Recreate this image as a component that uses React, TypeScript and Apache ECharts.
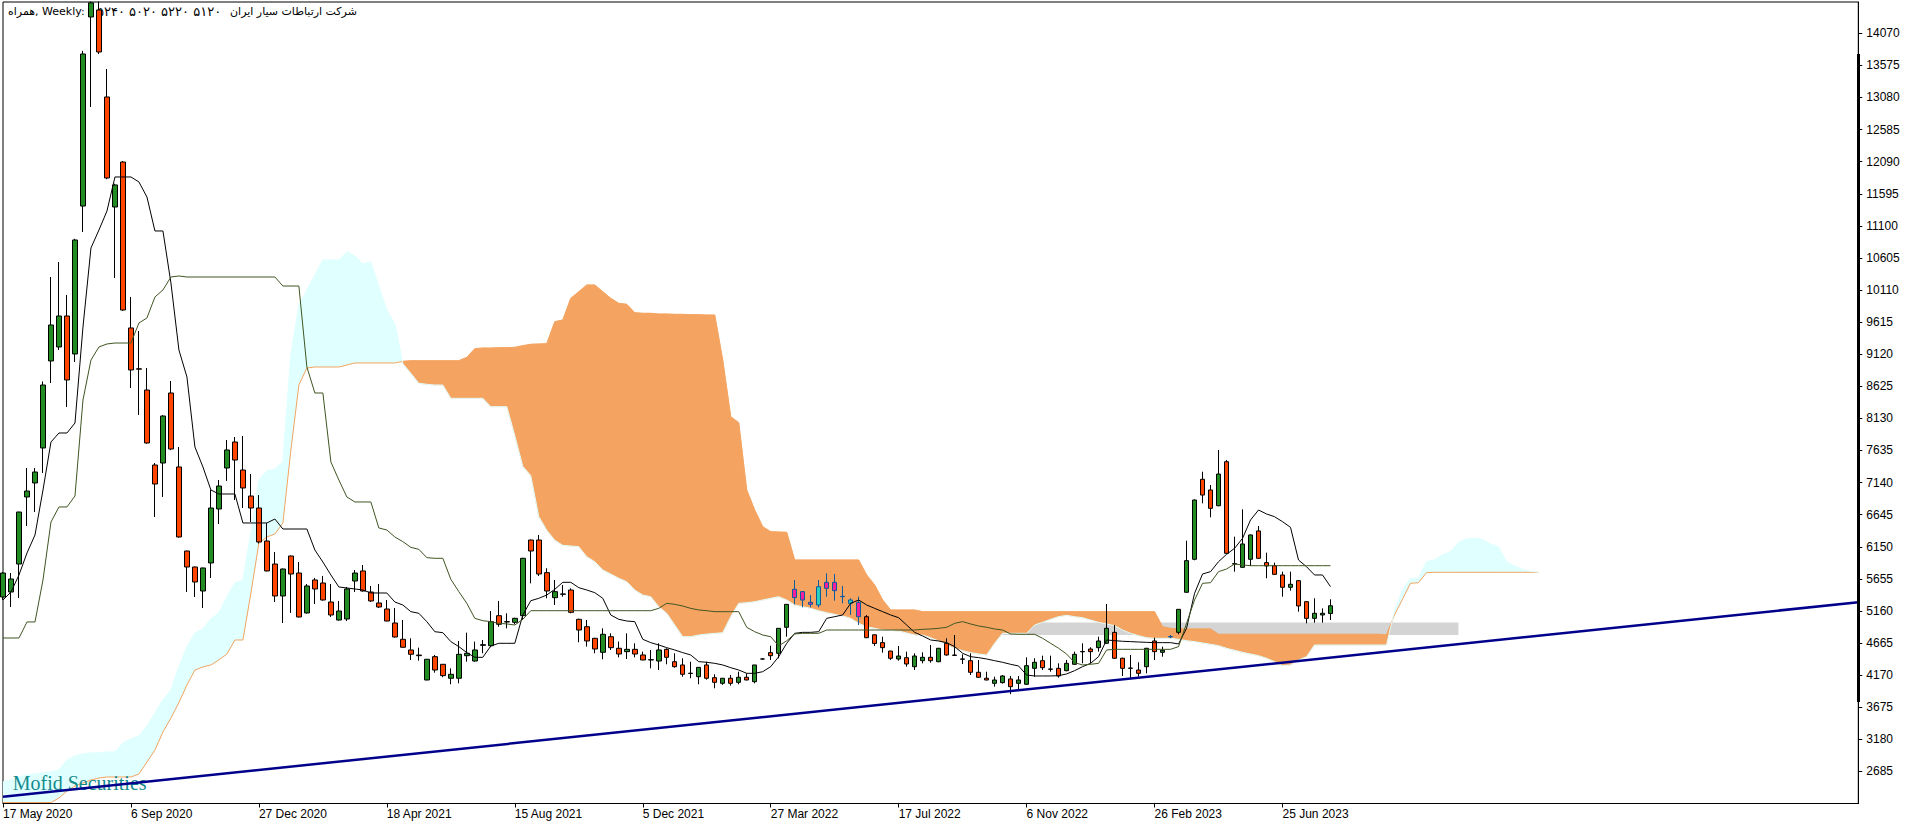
import React, { useEffect, useRef } from "react";
import * as echarts from "echarts";

// ---------- data (weekly bars, index 0 = 17 May 2020) ----------
// [open, high, low, close]
const ohlc: number[][] = [
  [5375,5760,5330,5745],[5452,5745,5221,5653],[5884,6690,5360,6686],[6918,7365,6470,7010],[7134,7365,6686,7303],
  [7674,8700,7288,8645],[9016,10311,8676,9571],[9232,10543,9185,9710],[9710,10034,8306,8723],[9124,10900,9000,10882],
  [11406,13800,11005,13751],[14322,14560,12934,14540],[14430,14560,13750,13782],[13088,13520,11820,11838],[11391,11750,10296,11731],
  [12085,12100,9790,9802],[9525,10003,8599,8877],[8895,9478,8183,8890],[8568,8908,7740,7751],[7411,7442,6609,7118],
  [7442,8180,6918,8167],[8522,8707,7640,7658],[7381,7689,6290,6301],[6085,6090,5452,5838],[5838,5845,5375,5607],
  [5468,5830,5206,5823],[5900,7026,5669,6748],[6733,7180,6501,7087],[7365,7797,7165,7643],[7766,7843,6871,7488],
  [7334,7859,6748,7057],[6933,7273,6532,6748],[6748,6948,6200,6224],[6239,6517,5770,5777],[5884,6069,5298,5391],
  [5391,5815,4974,5807],[6008,6015,5129,5730],[5745,5915,5060,5067],[5129,5576,5120,5545],[5638,5669,5267,5499],
  [5591,5700,5320,5329],[5298,5576,5067,5098],[5020,5314,5010,5159],[5036,5530,5005,5499],[5622,5792,5452,5745],
  [5777,5869,5460,5468],[5452,5545,5300,5314],[5283,5576,5206,5221],[5190,5329,5000,5005],[4974,5206,4750,4758],
  [4723,5020,4595,4600],[4558,4738,4404,4492],[4480,4594,4393,4470],[4095,4420,4090,4415],[4455,4481,4208,4249],
  [4337,4340,4137,4162],[4122,4275,4029,4183],[4122,4697,4044,4491],[4470,4825,4377,4507],[4388,4687,4377,4558],
  [4630,4712,4507,4640],[4624,5159,4600,4995],[5087,5314,4917,4954],[4995,5124,4892,4990],[4985,5056,4954,5046],
  [5087,5980,5020,5972],[6254,6260,5586,6085],[6254,6332,5700,5730],[5751,5818,5355,5468],[5365,5638,5252,5458],
  [5422,5561,5380,5417],[5483,5509,5124,5139],[5031,5040,4677,4866],[4917,5020,4610,4697],[4738,4745,4507,4573],
  [4522,4892,4415,4800],[4763,4815,4558,4594],[4584,4687,4445,4496],[4532,4815,4419,4568],[4568,4661,4445,4496],
  [4481,4532,4400,4404],[4404,4558,4275,4409],[4388,4661,4249,4558],[4568,4584,4337,4445],[4377,4507,4285,4300],
  [4327,4430,4146,4183],[4200,4377,4122,4195],[4146,4295,4029,4290],[4327,4377,4100,4122],[4131,4183,3967,4059],
  [4044,4125,4020,4122],[4122,4172,4008,4044],[4059,4223,4029,4137],[4137,4198,4090,4095],[4069,4327,4044,4327],
  [4419,4430,4410,4419],[4517,4624,4404,4470],[4507,4892,4430,4892],[4908,5262,4763,5262],[5494,5638,5262,5365],
  [5458,5460,5216,5329],[5293,5406,5216,5262],[5252,5638,5216,5534],[5602,5741,5380,5509],[5602,5730,5319,5473],
  [5385,5545,5278,5380],[5278,5355,5098,5329],[5293,5380,4943,5071],[5071,5098,4740,4748],[4792,4795,4620,4659],
  [4671,4763,4517,4594],[4542,4545,4404,4430],[4419,4620,4393,4465],[4439,4532,4300,4342],[4300,4507,4249,4465],
  [4393,4522,4352,4445],[4445,4635,4362,4393],[4377,4590,4370,4584],[4661,4738,4470,4481],[4480,4789,4465,4475],
  [4420,4491,4342,4415],[4393,4507,4172,4214],[4214,4404,4130,4137],[4122,4223,4090,4095],[4044,4146,3992,4095],
  [4054,4172,4040,4157],[4111,4157,3877,3992],[4044,4157,3941,4095],[4029,4445,4020,4316],[4275,4430,4146,4368],
  [4393,4470,4249,4285],[4265,4470,4223,4260],[4275,4352,4131,4157],[4239,4404,4230,4352],[4337,4532,4330,4491],
  [4535,4661,4352,4530],[4573,4600,4352,4532],[4594,4763,4532,4697],[4661,5267,4655,4892],[4830,4943,4420,4430],
  [4430,4440,4157,4275],[4280,4481,4106,4275],[4249,4368,4146,4198],[4300,4590,4198,4584],[4697,4748,4404,4532],
  [4522,4610,4455,4553],[4765,4790,4740,4760],[4830,5190,4800,5185],[5448,6244,5440,5936],[5957,6880,5942,6871],
  [7191,7308,6820,6948],[7026,7103,6605,6743],[6783,7643,6775,7272],[7462,7488,6040,6049],[5890,6306,5766,5884],
  [5833,6728,5825,6193],[5957,6340,5854,6332],[6394,6470,5965,5972],[5905,6059,5664,5854],[5858,5905,5720,5725],
  [5715,5766,5380,5525],[5525,5766,5473,5571],[5627,5635,5149,5237],[5303,5310,4969,5046],[5046,5355,4979,5124],
  [5098,5200,4979,5124],[5120,5340,5020,5240],
];

const tenkan: number[] = [
  5329,5452,5715,6054,6332,7026,7766,7905,7905,8059,
  9540,10759,11036,11329,11854,11854,11854,11777,11545,11021,
  11021,10219,9185,8769,7689,7381,7026,6964,6964,6964,
  6517,6517,6517,6517,6578,6424,6424,6424,6424,6100,
  5915,5715,5530,5514,5499,5483,5437,5437,5437,5298,
  5252,5149,5124,4995,4840,4825,4687,4610,4517,4445,
  4445,4620,4661,4661,4661,5098,5318,5355,5406,5494,
  5602,5602,5519,5483,5442,5355,5098,5031,5005,4995,
  4723,4671,4635,4594,4558,4517,4481,4378,4368,4352,
  4327,4285,4249,4198,4198,4223,4301,4455,4661,4815,
  4830,4830,4840,5046,5072,5098,5278,5329,5252,5200,
  5149,5098,5056,4943,4830,4774,4712,4697,4671,4610,
  4507,4455,4440,4419,4393,4368,4337,4311,4172,4157,
  4157,4157,4162,4188,4239,4301,4352,4455,4712,4702,
  4692,4687,4681,4676,4671,4671,4671,4651,4892,5432,
  5730,5766,5920,6033,6126,6280,6563,6717,6656,6614,
  6537,6450,5946,5843,5715,5715,5535,
];

const kijun: number[] = [
  4743,4743,4743,4990,4990,5638,6532,6764,6764,6933,
  8414,9031,9232,9278,9293,9293,9293,9602,9679,10003,
  10111,10311,10327,10311,10311,10311,10311,10311,10311,10311,
  10311,10311,10311,10311,10311,10172,10172,10172,8923,8522,
  8522,7458,7180,6918,6841,6841,6841,6440,6409,6301,
  6229,6141,6110,5982,5972,5972,5648,5458,5278,5046,
  5010,4995,4969,4960,4943,5031,5164,5164,5164,5164,
  5164,5164,5164,5164,5164,5164,5164,5164,5164,5164,
  5164,5164,5200,5278,5262,5236,5200,5175,5164,5149,
  5149,5149,5149,4908,4840,4789,4763,4620,4700,4805,
  4815,4815,4815,4866,4866,4866,4866,4866,4866,4866,
  4866,4866,4866,4866,4866,4877,4882,4892,4908,4969,
  4995,4959,4928,4908,4882,4866,4805,4800,4800,4800,
  4738,4661,4584,4496,4362,4327,4337,4352,4558,4568,
  4568,4568,4568,4568,4568,4568,4568,4610,4969,5329,
  5586,5596,5766,5807,5884,5869,5858,5858,5858,5858,
  5858,5858,5858,5858,5858,5858,5858,
];

const spanA: number[] = [
  2205,2205,2205,2205,2205,2205,2205,2275,2383,2460,
  2506,2553,2583,2599,2599,2599,2599,2645,2830,3015,
  3293,3509,3748,4018,4249,4296,4327,4404,4496,4712,
  4712,5437,6208,6301,6347,6517,7643,8646,8908,8923,
  8923,8923,8923,8954,8985,8985,8985,8985,8985,8985,
  9010,9020,9020,9020,9020,9020,9020,9020,9072,9205,
  9216,9216,9221,9221,9226,9252,9273,9278,9283,9622,
  9648,9982,10085,10188,10188,10085,9982,9905,9890,9761,
  9751,9751,9740,9740,9735,9735,9730,9730,9725,9725,
  9031,8157,8064,7026,6717,6460,6383,6378,6373,5946,
  5946,5946,5946,5946,5946,5946,5946,5946,5715,5561,
  5329,5175,5175,5175,5175,5149,5149,5149,5149,5149,
  5149,5149,5149,5149,5149,5149,5149,5149,5149,5149,
  5149,5149,5149,5149,5149,5149,5149,5149,5149,5149,
  5149,5149,5149,5149,5149,4917,4892,4882,4882,4882,
  4882,4882,4800,4800,4800,4800,4800,4800,4800,4800,
  4800,4800,4800,4800,4800,4800,4800,4800,4800,4800,
  4800,4800,4800,4790,5098,5340,5586,5596,5751,5756,
  5756,5756,5756,5756,5756,5756,5756,5756,5756,5756,
  5756,5756,5756,
];

const spanB: number[] = [
  2522,2553,2599,2630,2645,2661,2676,2707,2861,2923,
  2954,2969,2969,2985,2985,3123,3185,3231,3386,3586,
  3787,3941,4296,4604,4820,4882,5036,5129,5375,5591,
  5638,6363,7180,7319,7350,7458,9108,9879,10111,10342,
  10574,10574,10574,10697,10635,10512,10543,10157,9802,9586,
  8975,8826,8672,8656,8645,8645,8440,8440,8440,8440,
  8440,8311,8311,8311,7864,7391,7247,6614,6404,6250,
  6172,6162,6151,5997,5920,5792,5730,5664,5612,5483,
  5406,5380,5226,5124,4943,4763,4763,4789,4804,4814,
  4825,5072,5278,5288,5303,5329,5355,5380,5329,5252,
  5226,5200,5164,5133,5108,5082,5046,4969,4917,4892,
  4866,4860,4850,4820,4790,4789,4748,4697,4635,4584,
  4548,4517,4496,4481,4661,4815,4815,4815,4815,4943,
  4984,5031,5072,5092,5072,5056,5020,4984,4959,4933,
  4866,4815,4779,4748,4738,4738,4738,4723,4702,4687,
  4666,4646,4625,4584,4553,4522,4496,4470,4430,4378,
  4316,4327,4404,4455,4635,4635,4635,4635,4635,4635,
  4635,4635,4635,4635,5160,5483,5664,5664,5920,5946,
  6023,6075,6213,6270,6280,6264,6193,6151,5920,5854,
  5803,5772,5756,
];

// bars drawn inside the sandy cloud (colours inverted by the platform's XOR fill)
const xorBars: number[] = [99, 100, 101, 102, 103, 104, 105, 106, 107, 146];

// tick labels
const xTickLabels: string[] = [
  "17 May 2020", "6 Sep 2020", "27 Dec 2020", "18 Apr 2021", "15 Aug 2021", "5 Dec 2021",
  "27 Mar 2022", "17 Jul 2022", "6 Nov 2022", "26 Feb 2023", "25 Jun 2023",
];
const yTickLabels: number[] = [
  2685, 3180, 3675, 4170, 4665, 5160, 5655, 6150, 6645, 7140, 7635, 8130,
  8625, 9120, 9615, 10110, 10605, 11100, 11595, 12090, 12585, 13080, 13575, 14070,
];

// drawn objects: support trend line [barIndex, price] and the grey zone
const trendPoints: number[][] = [[0, 2293], [232, 5295]];
const greyZone = { fromBar: 123, toBar: 182, low: 4790, high: 4980 };

const SLOTS = 233;
const LABEL_EVERY = 16;
const Y_MIN = 2190;
const Y_MAX = 14553;
const Y_STEP = 495;
const LABEL_SHIFT = 210; // 2685 - 5*495

const ORANGE = "#F4A460";
const CYAN = "#E0FFFF";

type Piece = { s: number; e: number; cs: boolean; ce: boolean; up: boolean };

function buildPieces(): Piece[] {
  const n = spanA.length;
  const d = spanA.map((a, i) => a - spanB[i]);
  const out: Piece[] = [];
  const signOf = (s: number, e: number) => {
    for (let k = s; k <= e; k++) if (d[k] !== 0) return d[k] > 0;
    return true;
  };
  let s = 0;
  let cs = false;
  for (let i = 0; i < n - 1; i++) {
    if (d[i] * d[i + 1] < 0) {
      out.push({ s, e: i, cs, ce: true, up: signOf(s, i) });
      s = i + 1;
      cs = true;
    }
  }
  out.push({ s, e: n - 1, cs, ce: false, up: signOf(s, n - 1) });
  return out;
}

export default function App() {
  const ref = useRef<HTMLDivElement>(null);

  useEffect(() => {
    if (!ref.current) return;
    const chart = echarts.init(ref.current, null, { renderer: "svg" });

    const cats = Array.from({ length: SLOTS }, (_, i) => String(i));

    const candleData = ohlc.map(([o, h, l, c], i) => {
      const item: any = { value: [o, c, l, h] };
      if (xorBars.includes(i)) {
        const fill = c > o ? "#29D0BD" : "#F41E9F";
        item.itemStyle = {
          color: fill,
          color0: fill,
          borderColor: "#0B5B9F",
          borderColor0: "#0B5B9F",
        };
      }
      return item;
    });

    const pieces = buildPieces();
    const diff = spanA.map((a, i) => a - spanB[i]);
    const cloudData = pieces.map((p) => [p.s, spanA[p.s], spanB[p.s]]);

    const trendData: (number | null)[] = Array.from({ length: SLOTS }, () => null);
    trendPoints.forEach(([i, v]) => (trendData[i] = v));

    const showLabel = (i: number) => i % LABEL_EVERY === 0 && i / LABEL_EVERY < xTickLabels.length;

    const option: any = {
      animation: false,
      backgroundColor: "#ffffff",
      grid: {
        left: 2.3,
        top: 2,
        width: 1856,
        height: 801.5,
        show: true,
        borderColor: "#000",
        borderWidth: 1,
        backgroundColor: "#fff",
      },
      xAxis: {
        type: "category",
        data: cats,
        boundaryGap: false,
        axisLine: { show: true, lineStyle: { color: "#000", width: 1 } },
        axisTick: {
          show: true,
          interval: (i: number) => showLabel(i),
          length: 4,
          lineStyle: { color: "#000" },
        },
        axisLabel: {
          interval: (i: number) => showLabel(i),
          formatter: (v: string) => xTickLabels[Number(v) / LABEL_EVERY] ?? "",
          align: "left",
          margin: 4,
          color: "#000",
          fontSize: 12,
          fontFamily: "Liberation Sans",
        },
        splitLine: { show: false },
      },
      yAxis: [
        { type: "value", min: Y_MIN, max: Y_MAX, show: false, splitLine: { show: false } },
        {
          type: "value",
          min: Y_MIN - LABEL_SHIFT,
          max: Y_MAX - LABEL_SHIFT,
          interval: Y_STEP,
          position: "right",
          axisLine: { show: true, lineStyle: { color: "#000", width: 1 } },
          axisTick: { show: true, length: 4, lineStyle: { color: "#000" } },
          splitLine: { show: false },
          axisLabel: {
            margin: 8,
            color: "#000",
            fontSize: 12,
            fontFamily: "Liberation Sans",
            showMinLabel: false,
            showMaxLabel: false,
            formatter: (v: number) => {
              const t = Math.round(v + LABEL_SHIFT);
              return yTickLabels.includes(t) ? String(t) : "";
            },
          },
        },
      ],
      series: [
        {
          type: "custom",
          name: "cloud",
          z: 1,
          silent: true,
          clip: true,
          data: cloudData,
          encode: { x: 0, y: [1, 2] },
          renderItem: (params: any, api: any) => {
            const p = pieces[params.dataIndex];
            const A = (i: number) => api.coord([i, spanA[i]]);
            const B = (i: number) => api.coord([i, spanB[i]]);
            const cross = (j: number) => {
              const t = diff[j] / (diff[j] - diff[j + 1]);
              const a0 = A(j);
              const a1 = A(j + 1);
              return [a0[0] + t * (a1[0] - a0[0]), a0[1] + t * (a1[1] - a0[1])];
            };
            const pts: number[][] = [];
            if (p.cs) pts.push(cross(p.s - 1));
            for (let i = p.s; i <= p.e; i++) pts.push(A(i));
            if (p.ce) pts.push(cross(p.e));
            for (let i = p.e; i >= p.s; i--) pts.push(B(i));
            const c = p.up ? ORANGE : CYAN;
            return {
              type: "polygon",
              shape: { points: pts },
              style: { fill: c, stroke: c, lineWidth: 0.5 },
            };
          },
        },
        {
          type: "line",
          name: "Senkou A",
          z: 2,
          data: spanA,
          symbol: "none",
          silent: true,
          lineStyle: { color: ORANGE, width: 1 },
        },
        {
          type: "line",
          name: "Senkou B",
          z: 2,
          data: spanB,
          symbol: "none",
          silent: true,
          lineStyle: { color: CYAN, width: 1 },
          markArea: {
            silent: true,
            itemStyle: { color: "rgba(0,0,0,0.17)" },
            data: [[
              { xAxis: greyZone.fromBar, yAxis: greyZone.high },
              { xAxis: greyZone.toBar, yAxis: greyZone.low },
            ]],
          },
        },
        {
          type: "candlestick",
          name: "price",
          z: 4,
          barWidth: 5,
          clip: true,
          data: candleData,
          itemStyle: {
            color: "#228B22",
            color0: "#FF4500",
            borderColor: "#000",
            borderColor0: "#000",
            borderWidth: 1,
          },
        },
        {
          type: "line",
          name: "Tenkan",
          z: 5,
          data: tenkan,
          symbol: "none",
          silent: true,
          lineStyle: { color: "#000", width: 1 },
        },
        {
          type: "line",
          name: "Kijun",
          z: 5,
          data: kijun,
          symbol: "none",
          silent: true,
          lineStyle: { color: "#405522", width: 1 },
        },
        {
          type: "line",
          name: "trend",
          z: 6,
          data: trendData,
          connectNulls: true,
          symbol: "none",
          silent: true,
          lineStyle: { color: "#00008B", width: 2.5 },
        },
      ],
      graphic: [
        {
          type: "text",
          x: 8,
          y: 11.6,
          z: 1,
          style: { text: "همراه, Weekly:", fill: "#000", font: '11px "DejaVu Sans"', verticalAlign: "middle", align: "left" },
        },
        {
          type: "text",
          x: 97,
          y: 11.6,
          z: 1,
          style: { text: "۵۲۴۰ ۵۰۲۰ ۵۲۲۰ ۵۱۲۰", fill: "#000", font: '13px "DejaVu Sans"', verticalAlign: "middle", align: "left" },
        },
        {
          type: "text",
          x: 230,
          y: 11.6,
          z: 1,
          style: { text: "شرکت ارتباطات سیار ایران", fill: "#000", font: '11px "DejaVu Sans"', verticalAlign: "middle", align: "left" },
        },
        {
          type: "text",
          x: 12.7,
          y: 782.5,
          z: 3,
          style: { text: "Mofid Securities", fill: "#138A8C", font: '20px "Liberation Serif"', verticalAlign: "middle", align: "left" },
        },
        {
          type: "rect",
          z: 10,
          shape: { x: 1857, y: 54, width: 3, height: 648 },
          style: { fill: "#000" },
        },
      ],
    };

    chart.setOption(option);
    return () => chart.dispose();
  }, []);

  return (
    <div
      ref={ref}
      style={{ position: "absolute", left: 0, top: 0, width: 1916, height: 826, background: "#fff" }}
    />
  );
}
